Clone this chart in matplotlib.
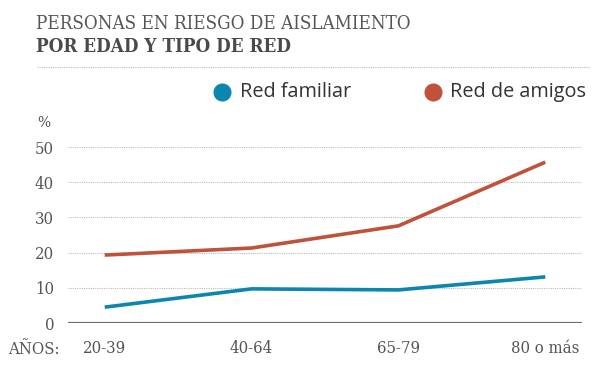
import matplotlib
matplotlib.use("Agg")
import matplotlib.pyplot as plt
from matplotlib.lines import Line2D

categories = ["20-39", "40-64", "65-79", "80 o más"]
red_familiar = [4.5, 9.7, 9.4, 13.1]
red_amigos = [19.3, 21.3, 27.6, 45.7]
yticks = [0, 10, 20, 30, 40, 50]
series_names = ["Red familiar", "Red de amigos"]

BLUE = "#0b86ae"
RED = "#c0513a"
GRAY = "#555555"
SERIF = "DejaVu Serif"

fig = plt.figure(figsize=(6.0, 3.66), dpi=100)
W, H = 600, 366

def fx(px):
    return px / W

def fy(py):
    return 1 - py / H

ax = fig.add_axes([fx(68), fy(323), fx(582) - fx(68), fy(147) - fy(323)])
x = list(range(len(categories)))
ax.plot(x, red_familiar, color=BLUE, lw=2.6, solid_capstyle="butt", clip_on=False, zorder=3)
ax.plot(x, red_amigos, color=RED, lw=2.6, solid_capstyle="butt", clip_on=False, zorder=3)
ax.set_xlim(-0.25, 3.25)
ax.set_ylim(0, 50)
for s in ax.spines.values():
    s.set_visible(False)
for yv in yticks[1:]:
    ax.axhline(yv, color="#bbbbbb", lw=0.8, ls=(0, (1, 1)), zorder=1)
ax.axhline(0, color="#707070", lw=1.6, zorder=2)
ax.set_yticks(yticks)
ax.set_yticklabels([str(v) for v in yticks], fontfamily=SERIF, fontsize=12, color=GRAY,
                   fontstretch="condensed")
ax.set_xticks(x)
ax.set_xticklabels(categories, fontfamily=SERIF, fontsize=12, color=GRAY, fontstretch="condensed")
ax.tick_params(axis="both", length=0)
ax.tick_params(axis="y", pad=10)
ax.tick_params(axis="x", pad=12)

fig.text(fx(8), fy(349), "AÑOS:", fontfamily=SERIF, fontsize=12, color=GRAY, va="center", ha="left",
         fontstretch="condensed")
fig.text(fx(37), fy(123), "%", fontfamily=SERIF, fontsize=10, color=GRAY, va="center", ha="left")

fig.text(fx(36), fy(24), "PERSONAS EN RIESGO DE AISLAMIENTO", fontfamily=SERIF, fontsize=13.5,
         color=GRAY, va="center", ha="left", fontstretch="condensed")
fig.text(fx(36), fy(47), "POR EDAD Y TIPO DE RED", fontfamily=SERIF, fontsize=13.5,
         fontweight="bold", color="#4a4a4a", va="center", ha="left", fontstretch="condensed")
fig.add_artist(Line2D([fx(37), fx(590)], [fy(67), fy(67)], color="#bbbbbb", lw=0.8, ls=(0, (1, 1))))

# legend
for cx, tx, col, name in [(222, 240, BLUE, series_names[0]), (433, 450, RED, series_names[1])]:
    fig.add_artist(Line2D([fx(cx)], [fy(92)], marker="o", markersize=12, color=col, lw=0))
    fig.text(fx(tx), fy(92), name, fontfamily="Open Sans", fontsize=14.3, color="#333333",
             va="center", ha="left")

fig.savefig("out.png", dpi=100, facecolor="white")
